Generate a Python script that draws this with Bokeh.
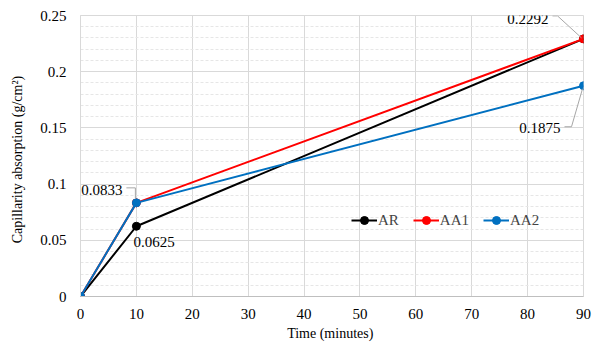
from bokeh.plotting import figure
from bokeh.models import Range1d, FixedTicker, Legend, LegendItem, ColumnDataSource
from bokeh.embed import file_html
from bokeh.resources import INLINE
from bokeh.core.properties import value

# ---- data ----
time_min = [0, 10, 90]
ar = [0, 0.0625, 0.2292]
aa1 = [0, 0.0833, 0.2292]
aa2 = [0, 0.0833, 0.1875]
series_names = ["AR", "AA1", "AA2"]
y_ticks = [0, 0.05, 0.1, 0.15, 0.2, 0.25]
y_tick_labels = ["0", "0.05", "0.1", "0.15", "0.2", "0.25"]
x_ticks = [0, 10, 20, 30, 40, 50, 60, 70, 80, 90]

# data labels: (series values, point index, text)
label_points = [
    (aa1, 2, "0.2292"),
    (aa2, 2, "0.1875"),
    (aa2, 1, "0.0833"),
    (ar, 1, "0.0625"),
]

colors = ["#000000", "#ff0000", "#0070c0"]
FONT = "Liberation Serif"

FW, FH = 503, 281
X0, X1 = 0, 90
Y0, Y1 = 0, 0.25

p = figure(width=605, height=347, output_backend="svg", toolbar_location=None,
           x_range=Range1d(X0, X1), y_range=Range1d(Y0, Y1),
           min_border_left=80, min_border_right=22, min_border_top=15, min_border_bottom=51)
p.frame_width = FW
p.frame_height = FH
p.outline_line_color = "#d9d9d9"
p.background_fill_color = "white"
p.border_fill_color = "white"

# grids
p.xgrid.ticker = FixedTicker(ticks=x_ticks)
p.xgrid.grid_line_color = "#d9d9d9"
p.xgrid.grid_line_width = 1
p.ygrid.ticker = FixedTicker(ticks=y_ticks, minor_ticks=[i / 100 for i in range(26)])
p.ygrid.grid_line_color = "#d9d9d9"
p.ygrid.minor_grid_line_color = "#e6e6e6"
p.ygrid.minor_grid_line_dash = "3 2"

# axes
p.xaxis.ticker = FixedTicker(ticks=x_ticks)
p.yaxis.ticker = FixedTicker(ticks=y_ticks)
p.yaxis.major_label_overrides = {t: s for t, s in zip(y_ticks, y_tick_labels)}
for ax in (p.xaxis[0], p.yaxis[0]):
    ax.axis_line_color = "#bfbfbf"
    ax.major_tick_line_color = None
    ax.minor_tick_line_color = None
    ax.major_tick_out = 0
    ax.major_tick_in = 0
    ax.major_label_text_font = FONT
    ax.major_label_text_font_size = "15px"
    ax.major_label_text_color = "#000000"
    ax.axis_label_text_font = FONT
    ax.axis_label_text_font_size = "14px"
    ax.axis_label_text_font_style = "normal"
    ax.axis_label_text_color = "#000000"
p.yaxis.axis_line_color = "#d9d9d9"
p.xaxis.major_label_standoff = 12
p.yaxis.major_label_standoff = 14
p.xaxis.axis_label = "Time  (minutes)"
p.yaxis.axis_label = "Capillarity  absorption  (g/cm\u00b2)"
p.xaxis.axis_label_standoff = 4
p.yaxis.axis_label_standoff = 12

# lines
items = []
for name, ys, c in zip(series_names, [ar, aa1, aa2], colors):
    src = ColumnDataSource(dict(x=time_min, y=ys))
    l = p.line("x", "y", source=src, line_color=c, line_width=2)
    s = p.scatter("x", "y", source=src, size=8, fill_color=c, line_color=c)
    items.append(LegendItem(label=name, renderers=[l, s]))

legend = Legend(items=items, orientation="horizontal", location=(271, 66),
                background_fill_alpha=0, border_line_color=None,
                label_text_font=FONT, label_text_font_size="15px",
                glyph_width=26, label_standoff=1, spacing=14, padding=2, margin=0)
p.add_layout(legend)

# data labels with leader lines (offsets in screen px, converted to data units)
px_x = (X1 - X0) / FW
px_y = (Y1 - Y0) / FH
# (dx, dy) text anchor offsets from point in px (screen-up positive), align, leader path in px
label_styles = [
    (-35, 20, "right", [(-31, 23), (-26, 23), (-2, 1)]),
    (-23, -42, "right", [(-19, -41), (-12, -41), (-1, -3)]),
    (-14, 13, "right", [(-10, 15), (-1, 15), (-1, 4)]),
    (-3, -16, "left", None),
]
for (ys, i, txt), (dx, dy, align, path) in zip(label_points, label_styles):
    x = time_min[i]
    y = ys[i]
    p.text(x=[x + dx * px_x], y=[y + dy * px_y], text=[txt], text_align=align,
           text_baseline="middle", text_font=value(FONT), text_font_size="15px",
           text_color="#000000")
    if path:
        p.line([x + a * px_x for a, b in path], [y + b * px_y for a, b in path],
               line_color="#a6a6a6", line_width=1)

open("out.html", "w").write(file_html(p, INLINE))
